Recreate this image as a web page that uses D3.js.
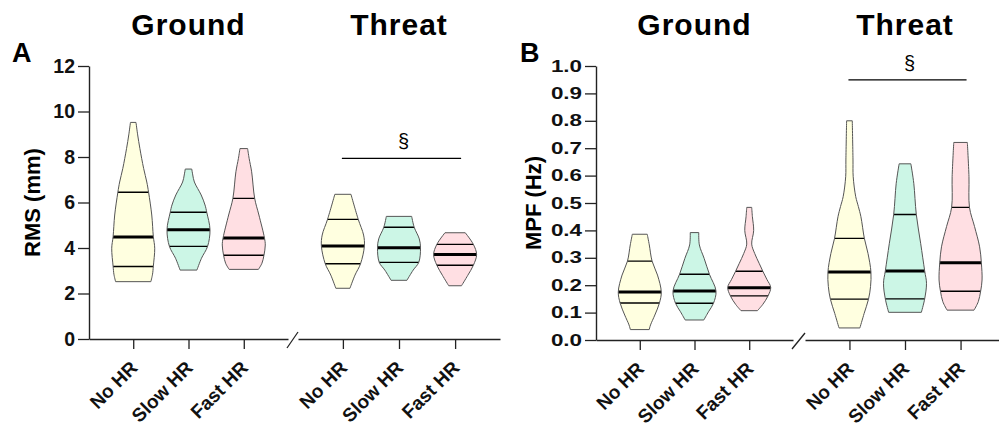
<!DOCTYPE html>
<html><head><meta charset="utf-8">
<script src="https://cdn.jsdelivr.net/npm/d3@7"></script>
<style>
body{margin:0;background:#fff}
svg{display:block}
text{font-family:"Liberation Sans",Arial,Helvetica,sans-serif;}
</style>
</head><body><svg id="c" width="999" height="431"></svg>
<script>
// ---------------- DATA ----------------
const groups = ["Ground", "Threat"];
const conditions = ["No HR", "Slow HR", "Fast HR"];
const fillColors = ["#ffffe0", "#ccf6e6", "#ffdfe3"];

const rmsTicks = [0, 2, 4, 6, 8, 10, 12];
const mpfTicks = [0, 0.1, 0.2, 0.3, 0.4, 0.5, 0.6, 0.7, 0.8, 0.9, 1.0];

// violin profiles: [value, relative density] from max to min
const rmsGroundNo   = [[9.52,2.8],[8.97,4.5],[8.38,6.7],[7.5,10.5],[6.9,13.7],[6.45,15.5],[5.45,18.7],[4.5,20.3],[3.99,21.7],[3.2,20.3],[2.85,19.5],[2.52,17.8]];
const rmsGroundSlow = [[7.47,3.2],[7.21,4.2],[6.9,5.8],[6.33,12.5],[5.89,16.3],[5.57,18],[4.8,21.2],[4.07,18.8],[3.55,12.8],[3.03,8.3]];
const rmsGroundFast = [[8.37,3.8],[7.94,5.3],[7.35,7.8],[6.18,10.8],[5.45,15],[4.44,20.5],[4.13,21.3],[3.68,20],[3.33,18],[3.06,14.5]];
const rmsThreatNo   = [[6.36,8],[5.26,15.2],[4.57,20.5],[4.09,21.3],[3.31,17.5],[2.81,12],[2.23,7]];
const rmsThreatSlow = [[5.39,12.5],[4.91,15],[4.4,20],[4.01,21.2],[3.37,19.5],[3.03,14],[2.58,7.8]];
const rmsThreatFast = [[4.67,10],[4.16,18],[3.71,21.2],[3.24,18],[2.8,12.5],[2.34,6.3]];

const mpfGroundNo   = [[0.386,7.3],[0.347,9.3],[0.288,12],[0.237,17.3],[0.175,21],[0.135,19.2],[0.091,14.7],[0.055,10.5],[0.038,9.2]];
const mpfGroundSlow = [[0.392,4.2],[0.347,4.8],[0.298,9.5],[0.24,14.7],[0.179,21.2],[0.134,18.7],[0.103,13.8],[0.073,9.2]];
const mpfGroundFast = [[0.484,2.5],[0.45,3.2],[0.40,4.5],[0.35,2.5],[0.316,5.5],[0.28,10],[0.249,14],[0.22,18],[0.192,21.7],[0.161,19],[0.13,13.7],[0.107,8.3]];
const mpfThreatNo   = [[0.80,2.8],[0.657,3.5],[0.596,3.7],[0.523,6.2],[0.487,8.8],[0.45,11.3],[0.371,14.7],[0.316,18.3],[0.248,21.2],[0.195,20.8],[0.149,18.8],[0.097,14.5],[0.044,10.3]];
const mpfThreatSlow = [[0.643,5.8],[0.572,8.7],[0.458,11.2],[0.353,15.5],[0.252,19.5],[0.207,21.3],[0.15,19.5],[0.101,16.2]];
const mpfThreatFast = [[0.721,6.7],[0.596,8.3],[0.484,8.8],[0.414,13.8],[0.34,18.8],[0.282,20.5],[0.219,21.2],[0.178,19.8],[0.14,17.5],[0.109,13.3]];

// quartiles [group][condition]
const rmsQ1     = [[3.19, 4.07, 3.68], [3.31, 3.37, 3.24]];
const rmsMedian = [[4.48, 4.80, 4.44], [4.09, 4.01, 3.71]];
const rmsQ3     = [[6.45, 5.57, 6.18], [5.26, 4.91, 4.16]];
const mpfQ1     = [[0.135, 0.134, 0.161], [0.149, 0.150, 0.178]];
const mpfMedian = [[0.175, 0.179, 0.191], [0.248, 0.252, 0.282]];
const mpfQ3     = [[0.288, 0.240, 0.251], [0.371, 0.458, 0.484]];

// significance (Threat group) bar heights
const rmsSig = 7.94;
const mpfSig = 0.949;

// ---------------- LAYOUT ----------------
const panels = [
  { letter: "A", yTitle: "RMS (mm)", yMax: 12, ticks: rmsTicks, fmt: d3.format("d"),
    profiles: [[rmsGroundNo, rmsGroundSlow, rmsGroundFast], [rmsThreatNo, rmsThreatSlow, rmsThreatFast]],
    q1: rmsQ1, med: rmsMedian, q3: rmsQ3, sig: rmsSig,
    axisX: 89, yTop: 66, yBottom: 339, segs: [[89, 288], [298, 500]],
    letterX: 12, titleX: 32, tickFont: 19.5, tickStretch: 1 },
  { letter: "B", yTitle: "MPF (Hz)", yMax: 1, ticks: mpfTicks, fmt: d3.format(".1f"),
    profiles: [[mpfGroundNo, mpfGroundSlow, mpfGroundFast], [mpfThreatNo, mpfThreatSlow, mpfThreatFast]],
    q1: mpfQ1, med: mpfMedian, q3: mpfQ3, sig: mpfSig,
    axisX: 596, yTop: 66, yBottom: 340, segs: [[596, 793], [805, 1005]],
    letterX: 520, titleX: 533, tickFont: 16, tickStretch: 1.4 }
];

const svg = d3.select("#c");
const defs = svg.append("defs");
const halfMax = 21.5;
let clipId = 0;

panels.forEach(P => {
  const g = svg.append("g");
  const y = d3.scaleLinear().domain([0, P.yMax]).range([P.yBottom, P.yTop]);
  const xs = P.segs.map(s => d3.scalePoint().domain(conditions).range(s).padding(0.8));

  // violins
  groups.forEach((grp, gi) => {
    conditions.forEach((cond, ci) => {
      const prof = P.profiles[gi][ci];
      const cx = xs[gi](cond);
      const w = d3.scaleLinear().domain([0, d3.max(prof, d => d[1])]).range([0, halfMax]);
      const area = d3.area()
        .y(d => y(d[0]))
        .x0(d => cx - w(d[1]))
        .x1(d => cx + w(d[1]))
        .curve(d3.curveCatmullRom);
      const dPath = area(prof);
      const id = "vc" + (clipId++);
      defs.append("clipPath").attr("id", id).append("path").attr("d", dPath);
      g.append("path").attr("d", dPath).attr("fill", fillColors[ci]).attr("stroke", "none");
      const lg = g.append("g").attr("clip-path", `url(#${id})`);
      [[P.q1[gi][ci], 1.4], [P.q3[gi][ci], 1.4], [P.med[gi][ci], 3]].forEach(([v, sw]) => {
        lg.append("line").attr("x1", cx - 30).attr("x2", cx + 30)
          .attr("y1", y(v)).attr("y2", y(v))
          .attr("stroke", "#000").attr("stroke-width", sw);
      });
      g.append("path").attr("d", dPath).attr("fill", "none").attr("stroke", "#555").attr("stroke-width", 1);
    });
  });

  // y axis
  const ya = g.append("g").attr("transform", `translate(${P.axisX},0)`)
    .call(d3.axisLeft(y).tickValues(P.ticks).tickSize(11).tickSizeOuter(0).tickPadding(3).tickFormat(P.fmt));
  ya.select(".domain").attr("stroke", "#222").attr("stroke-width", 1.4);
  ya.selectAll(".tick line").attr("stroke", "#222").attr("stroke-width", 1.3);
  ya.selectAll(".tick text")
    .attr("font-size", P.tickFont).attr("font-weight", "bold").attr("fill", "#111")
    .attr("font-family", "Liberation Sans, Arial, sans-serif")
    .attr("x", -14 / P.tickStretch)
    .attr("transform", `scale(${P.tickStretch},1)`);

  // x axes (two segments)
  xs.forEach(xsc => {
    const xa = g.append("g").attr("transform", `translate(0,${P.yBottom})`)
      .call(d3.axisBottom(xsc).tickSize(10).tickSizeOuter(0));
    xa.select(".domain").attr("stroke", "#222").attr("stroke-width", 1.4);
    xa.selectAll(".tick line").attr("stroke", "#222").attr("stroke-width", 1.3);
    xa.selectAll(".tick text")
      .attr("font-size", 19).attr("font-weight", "bold").attr("fill", "#111")
      .attr("font-family", "Liberation Sans, Arial, sans-serif")
      .attr("x", 5).attr("y", 30).attr("dy", null)
      .attr("transform", "rotate(-45,5,30)")
      .attr("text-anchor", "end");
  });

  // break slash
  g.append("line")
    .attr("x1", P.segs[0][1] - 1).attr("y1", P.yBottom + 9)
    .attr("x2", P.segs[1][0]).attr("y2", P.yBottom - 7)
    .attr("stroke", "#222").attr("stroke-width", 1.3);

  // group titles
  groups.forEach((grp, gi) => {
    g.append("text").attr("x", xs[gi](conditions[1])).attr("y", 35)
      .attr("text-anchor", "middle").attr("font-size", 30).attr("font-weight", "bold")
      .attr("letter-spacing", "1px").attr("fill", "#000").text(grp);
  });

  // significance bar
  const sx1 = xs[1](conditions[0]) - 1, sx2 = xs[1](conditions[2]) + 6, sy = y(P.sig);
  g.append("line").attr("x1", sx1).attr("x2", sx2).attr("y1", sy).attr("y2", sy)
    .attr("stroke", "#000").attr("stroke-width", 1.2);
  g.append("text").attr("x", (sx1 + sx2) / 2 + 2).attr("y", sy - 10)
    .attr("text-anchor", "middle").attr("font-size", 20).attr("fill", "#000").text("§");

  // y title
  g.append("text")
    .attr("transform", `translate(${P.titleX},${(P.yTop + P.yBottom) / 2}) rotate(-90)`)
    .attr("text-anchor", "middle").attr("dy", "0.35em")
    .attr("font-size", 22).attr("font-weight", "bold").attr("fill", "#000").text(P.yTitle);

  // panel letter
  g.append("text").attr("x", P.letterX).attr("y", 62)
    .attr("font-size", 27).attr("font-weight", "bold").attr("fill", "#000").text(P.letter);
});
</script>
</body></html>
